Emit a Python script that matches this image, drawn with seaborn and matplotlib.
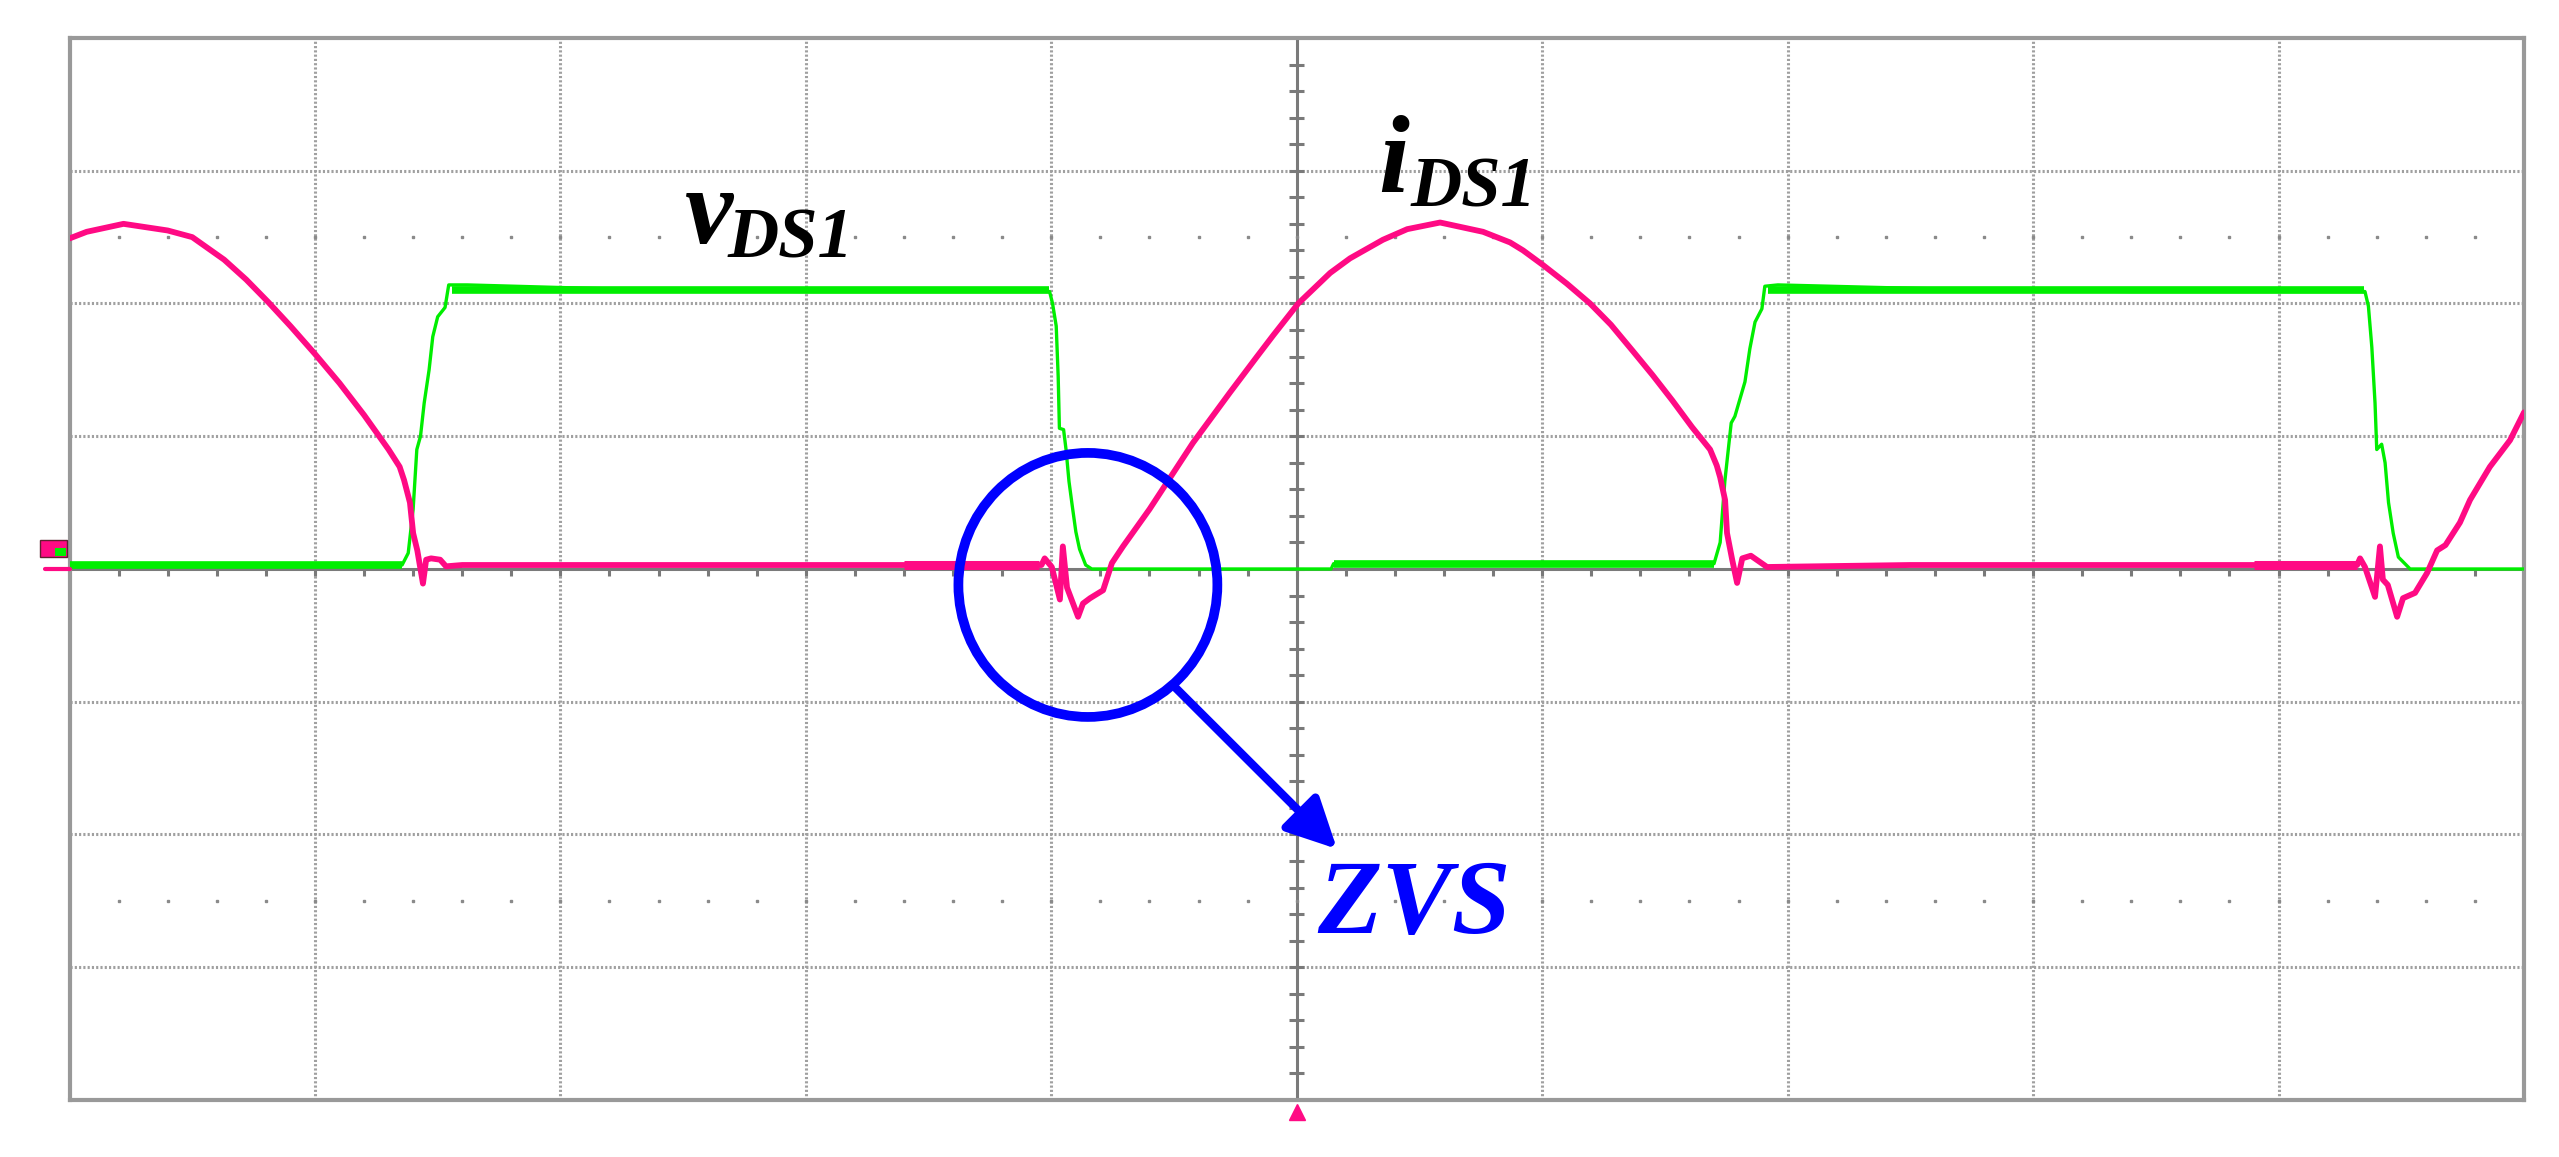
import numpy as np
import matplotlib
matplotlib.use('Agg')
import matplotlib.pyplot as plt
from matplotlib.patches import Ellipse, Rectangle, FancyArrowPatch
import seaborn as sns

# screen units: x in divisions (0..10), y in divisions (-4..4), ground at 0
vds_x = [0, 1.355, 1.38, 1.40, 1.415, 1.43, 1.445, 1.465, 1.48, 1.50,
         1.53, 1.545, 1.62, 2.2, 3.0, 3.993, 4.005, 4.02, 4.028, 4.033,
         4.05, 4.06, 4.072, 4.085, 4.10, 4.115, 4.14, 4.165, 5.14, 5.15,
         6.70, 6.725, 6.744, 6.764, 6.77, 6.785, 6.826, 6.846, 6.867, 6.895,
         6.907, 6.96, 7.6, 8.4, 9.352, 9.366, 9.38, 9.393, 9.40, 9.42,
         9.434, 9.448, 9.467, 9.488, 9.536, 10.0]
vds_y = [0.03, 0.03, 0.12, 0.45, 0.9, 1.0, 1.25, 1.5, 1.75, 1.9,
         1.97, 2.14, 2.14, 2.11, 2.09, 2.09, 2.0, 1.83, 1.45, 1.06,
         1.05, 0.9, 0.66, 0.48, 0.28, 0.15, 0.03, 0.0, 0.0, 0.04,
         0.04, 0.2, 0.66, 1.0, 1.1, 1.15, 1.41, 1.66, 1.86, 1.96,
         2.13, 2.14, 2.11, 2.09, 2.09, 1.98, 1.67, 1.25, 0.9, 0.94,
         0.8, 0.5, 0.27, 0.09, 0.0, 0.0]

# noisy (thick) stretches of the voltage trace
vds_band_x0 = [0, 1.56, 5.15, 6.92]
vds_band_x1 = [1.355, 3.99, 6.70, 9.35]
vds_band_y = [0.03, 2.10, 0.04, 2.10]

ids_x = [0, 0.07, 0.22, 0.40, 0.50, 0.63, 0.72, 0.81, 0.90, 1.0,
         1.1, 1.2, 1.30, 1.345, 1.363, 1.387, 1.40, 1.417, 1.44, 1.453,
         1.473, 1.51, 1.534, 1.6, 2.5, 3.5, 3.96, 3.973, 4.002, 4.035,
         4.047, 4.064, 4.109, 4.129, 4.158, 4.211, 4.247, 4.292, 4.40, 4.577,
         4.728, 4.838, 4.904, 5.006, 5.136, 5.217, 5.351, 5.45, 5.584, 5.759,
         5.869, 5.922, 6.003, 6.10, 6.195, 6.28, 6.37, 6.45, 6.53, 6.61,
         6.684, 6.711, 6.725, 6.745, 6.753, 6.774, 6.794, 6.815, 6.85, 6.916,
         7.5, 8.5, 9.32, 9.332, 9.352, 9.393, 9.413, 9.425, 9.445, 9.483,
         9.507, 9.556, 9.605, 9.646, 9.68, 9.739, 9.780, 9.861, 9.943, 10.0]
ids_y = [2.49, 2.54, 2.60, 2.55, 2.50, 2.33, 2.18, 2.01, 1.83, 1.62,
         1.40, 1.16, 0.90, 0.77, 0.67, 0.50, 0.27, 0.14, -0.11, 0.07,
         0.08, 0.07, 0.02, 0.03, 0.03, 0.03, 0.03, 0.08, 0.015, -0.23,
         0.17, -0.14, -0.36, -0.26, -0.22, -0.16, 0.045, 0.17, 0.45, 0.95,
         1.33, 1.60, 1.76, 2.0, 2.23, 2.34, 2.48, 2.56, 2.61, 2.54,
         2.46, 2.40, 2.29, 2.15, 2.0, 1.84, 1.64, 1.46, 1.27, 1.07,
         0.90, 0.78, 0.69, 0.52, 0.27, 0.07, -0.105, 0.08, 0.1, 0.015,
         0.03, 0.03, 0.03, 0.08, 0.015, -0.21, 0.17, -0.08, -0.12, -0.36,
         -0.22, -0.18, -0.03, 0.14, 0.18, 0.35, 0.52, 0.77, 0.97, 1.18]

ids_band_x0 = [3.4, 8.9]
ids_band_x1 = [3.95, 9.32]
ids_band_y = [0.03, 0.03]

green = '#00EE00'
pink = '#FF0A84'
blue = '#0000FF'
grid_col = '#a0a0a0'

sns.set_style('white')
plt.rcParams['font.family'] = ['Liberation Serif', 'DejaVu Serif']

fig = plt.figure(figsize=(25.59, 11.57), dpi=100)
ax = fig.add_axes([0.02716, 0.04927, 0.95917, 0.91789])
ax.set_xlim(0, 10)
ax.set_ylim(-4, 4)
ax.set_xticks([])
ax.set_yticks([])

# graticule
for xv in range(1, 10):
    if xv != 5:
        ax.axvline(xv, color=grid_col, ls=(0, (0.7, 0.7)), lw=2.2, zorder=1)
for yv in range(-3, 4):
    if yv != 0:
        ax.axhline(yv, color=grid_col, ls=(0, (0.7, 0.7)), lw=2.2, zorder=1)
ax.axvline(5, color='#7a7a7a', lw=2.2, zorder=1)
ax.axhline(0, color='#7a7a7a', lw=2.2, zorder=1)
minor_x = np.arange(0.2, 10, 0.2)
minor_y = np.arange(-3.8, 4, 0.2)
ax.vlines(minor_x, -0.05, 0, color='#7a7a7a', lw=2.2, zorder=1)
ax.hlines(minor_y, 4.97, 5.03, color='#7a7a7a', lw=2.2, zorder=1)
for yv in [2.5, -2.5]:
    ax.plot(minor_x, [yv] * len(minor_x), ls='none', marker='s', ms=1.6,
            color='#8a8a8a', zorder=1)
for s in ax.spines.values():
    s.set_color('#999999')
    s.set_linewidth(3)

# traces
sns.lineplot(x=vds_x, y=vds_y, ax=ax, color=green, lw=2.4,
             estimator=None, sort=False, legend=False, zorder=3)
for x0, x1, yv in zip(vds_band_x0, vds_band_x1, vds_band_y):
    ax.plot([x0, x1], [yv, yv], color=green, lw=5.5, solid_capstyle='butt', zorder=3)
sns.lineplot(x=ids_x, y=ids_y, ax=ax, color=pink, lw=4.2,
             estimator=None, sort=False, legend=False, zorder=4)
for x0, x1, yv in zip(ids_band_x0, ids_band_x1, ids_band_y):
    ax.plot([x0, x1], [yv, yv], color=pink, lw=6.5, solid_capstyle='butt', zorder=4)

# channel / trigger markers
ax.plot([-0.1, 0], [0, 0], color=pink, lw=3, clip_on=False, zorder=4)
ax.add_patch(Rectangle((-0.12, 0.09), 0.11, 0.13, facecolor=pink,
                       edgecolor='#602030', lw=1, clip_on=False, zorder=5))
ax.add_patch(Rectangle((-0.06, 0.10), 0.045, 0.06, facecolor=green,
                       edgecolor='none', clip_on=False, zorder=6))
ax.plot([5.0], [-4.09], marker='^', ms=12, color=pink, clip_on=False, zorder=5)

# labels
tk = dict(fontweight='bold', fontstyle='italic', ha='left', va='baseline', zorder=6)
ax.text(2.508, 2.456, 'v', fontsize=78, color='black', **tk)
ax.text(2.679, 2.350, 'DS1', fontsize=51, color='black', **tk)
ax.text(5.330, 2.840, 'i', fontsize=80, color='black', **tk)
ax.text(5.462, 2.727, 'DS1', fontsize=51, color='black', **tk)
ax.text(5.082, -2.742, 'ZVS', fontsize=76, color=blue, **tk)

# ZVS annotation
ax.add_patch(Ellipse((4.149, -0.12), 1.055, 1.989, fill=False,
                     edgecolor=blue, lw=7, zorder=7))
ax.add_patch(FancyArrowPatch((4.502, -0.887), (5.164, -2.109),
                             arrowstyle='-|>,head_length=0.4,head_width=0.2',
                             mutation_scale=76, color=blue, lw=6,
                             shrinkA=0, shrinkB=0, zorder=7))

fig.savefig('out.png', dpi=100, facecolor='white')
